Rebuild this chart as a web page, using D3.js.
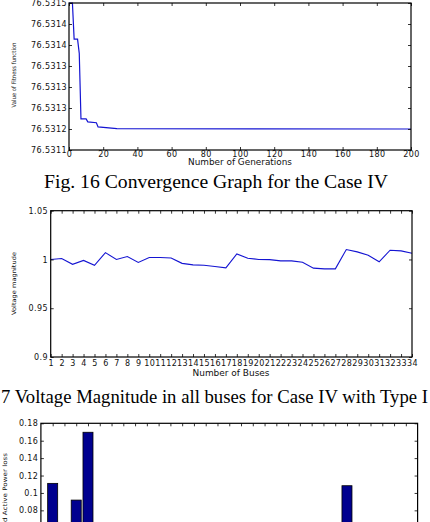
<!DOCTYPE html>
<html><head><meta charset="utf-8">
<script src="https://cdn.jsdelivr.net/npm/d3@7"></script>
<style>body{margin:0;background:#fff;overflow:hidden;} svg{display:block;}</style>
</head><body>
<svg id="c" width="430" height="522"></svg>
<script>
// ---- Fig. 16: convergence ----
const generations = [0, 2, 3, 5, 6, 7, 10, 11, 16, 17, 28, 200];
const fitness = [76.53150, 76.53150, 76.531414, 76.531414, 76.53138, 76.531224, 76.531224, 76.531217, 76.531215, 76.531205, 76.531201, 76.531200];
const genTicks = [0, 20, 40, 60, 80, 100, 120, 140, 160, 180, 200];
const fitTicks = [76.53150, 76.53145, 76.53140, 76.53135, 76.53130, 76.53125, 76.53120, 76.53115];
const fitTickLabels = ["76.5315", "76.5314", "76.5314", "76.5313", "76.5313", "76.5313", "76.5312", "76.5311"];

// ---- Fig. 17: voltage magnitude ----
const buses = [1,2,3,4,5,6,7,8,9,10,11,12,13,14,15,16,17,18,19,20,21,22,23,24,25,26,27,28,29,30,31,32,33,34];
const voltage = [1.000, 1.001, 0.995, 0.999, 0.994, 1.007, 1.000, 1.003, 0.997, 1.002, 1.002, 1.0015, 0.996, 0.9945, 0.994, 0.9928,
  0.9914, 1.0057, 1.0013, 1.000, 0.9998, 0.9986, 0.9986, 0.9972, 0.9911, 0.9904, 0.9904, 1.0102, 1.0078, 1.0044, 0.9976, 1.0095, 1.0088, 1.0064];
const voltTicks = [0.9, 0.95, 1, 1.05];
const voltTickLabels = ["0.9", "0.95", "1", "1.05"];

// ---- Fig. 18: active power loss reduction (only the upper part is in view) ----
const branches = [1,2,3,4,5,6,7,8,9,10,11,12,13,14,15,16,17,18,19,20,21,22,23,24,25,26,27,28,29,30,31];
const lossReduction = [0.111, 0, 0.0918, 0.1697, 0, 0, 0, 0, 0, 0, 0, 0, 0, 0, 0, 0, 0, 0, 0, 0, 0, 0, 0, 0, 0, 0.1083, 0, 0, 0, 0, 0];
const lossTicks = [0, 0.02, 0.04, 0.06, 0.08, 0.1, 0.12, 0.14, 0.16, 0.18];
const lossTickLabels = ["0", "0.02", "0.04", "0.06", "0.08", "0.1", "0.12", "0.14", "0.16", "0.18"];

const W = 430, H = 522;
const svg = d3.select("#c");
svg.append("rect").attr("width", W).attr("height", H).attr("fill", "#fff");

const FONT = "DejaVu Sans, Verdana, sans-serif";

function frame(g, x, y, cfg) {
  const [x0, x1] = x.range(), [y1, y0] = y.range();
  const styleAxis = a => {
    a.select(".domain").remove();
    a.selectAll("line").attr("stroke", "#000").attr("stroke-width", 0.8);
    a.selectAll("text").attr("font-family", FONT).attr("font-size", 8).attr("letter-spacing", 0.4).attr("fill", "#111");
    // drop labels that fall outside the visible picture
    a.selectAll(".tick").filter(function () {
      const t = d3.select(this).attr("transform");
      const m = /translate\(([-\d.]+),([-\d.]+)\)/.exec(t);
      return m && (+m[2] > H - 6);
    }).select("text").remove();
  };
  g.append("g").attr("transform", `translate(0,${y1})`)
    .call(d3.axisBottom(x).tickValues(cfg.xTicks).tickFormat(cfg.xFmt).tickSize(-3).tickPadding(cfg.xPad))
    .call(styleAxis)
    .call(a => { if (y1 > H) a.selectAll("text").remove(); });
  g.append("g").attr("transform", `translate(0,${y0})`)
    .call(d3.axisTop(x).tickValues(cfg.xTicks).tickFormat("").tickSize(-3))
    .call(styleAxis);
  g.append("g").attr("transform", `translate(${x0},0)`)
    .call(d3.axisLeft(y).tickValues(cfg.yTicks).tickFormat((d, i) => cfg.yLabels[i]).tickSize(-3).tickPadding(cfg.yPad))
    .call(styleAxis);
  g.append("g").attr("transform", `translate(${x1},0)`)
    .call(d3.axisRight(y).tickValues(cfg.yTicks).tickFormat("").tickSize(-3))
    .call(styleAxis);
  g.append("rect").attr("x", x0).attr("y", y0).attr("width", x1 - x0).attr("height", y1 - y0)
    .attr("fill", "none").attr("stroke", "#000").attr("stroke-width", 1.2);
}

function rotLabel(text, cx, cy, len) {
  svg.append("text").attr("transform", `translate(${cx},${cy}) rotate(-90)`)
    .attr("text-anchor", "middle").attr("font-family", FONT).attr("font-size", 6)
    .attr("textLength", len).attr("lengthAdjust", "spacingAndGlyphs").attr("fill", "#111").text(text);
}
function xLabel(text, cx, by, len) {
  svg.append("text").attr("x", cx).attr("y", by).attr("text-anchor", "middle")
    .attr("font-family", FONT).attr("font-size", 8).attr("textLength", len)
    .attr("lengthAdjust", "spacingAndGlyphs").attr("fill", "#111").text(text);
}
function caption(text, x, by, len) {
  svg.append("text").attr("x", x).attr("y", by).attr("font-family", "Liberation Serif, Times New Roman, serif")
    .attr("font-size", 18.5).attr("textLength", len).attr("lengthAdjust", "spacingAndGlyphs")
    .attr("fill", "#000").text(text);
}

// ---- Chart 1 ----
{
  const x = d3.scaleLinear().domain([0, 200]).range([69, 411]);
  const y = d3.scaleLinear().domain([76.53115, 76.53150]).range([150, 3]);
  const g = svg.append("g");
  const pts = generations.map((d, i) => [d, fitness[i]]);
  g.append("path").datum(pts)
    .attr("d", d3.line().x(d => x(d[0])).y(d => y(d[1])))
    .attr("fill", "none").attr("stroke", "#1414d2").attr("stroke-width", 1.2);
  frame(g, x, y, { xTicks: genTicks, xFmt: d => d, xPad: 1.5, yTicks: fitTicks, yLabels: fitTickLabels, yPad: 2 });
  rotLabel("Value of Fitness function", 16, 75, 65);
  xLabel("Number of Generations", 240, 165, 104);
  caption("Fig. 16  Convergence Graph for the Case IV", 44, 188, 344);
}

// ---- Chart 2 ----
{
  const x = d3.scaleLinear().domain([1, 34]).range([50.7, 412]);
  const y = d3.scaleLinear().domain([0.9, 1.05]).range([357, 210.7]);
  const g = svg.append("g");
  g.append("path").datum(buses.map((b, i) => [b, voltage[i]]))
    .attr("d", d3.line().x(d => x(d[0])).y(d => y(d[1])))
    .attr("fill", "none").attr("stroke", "#1414d2").attr("stroke-width", 1.1);
  frame(g, x, y, { xTicks: buses, xFmt: d => d, xPad: 3.3, yTicks: voltTicks, yLabels: voltTickLabels, yPad: 2.7 });
  rotLabel("Voltage magnitude", 16, 283.5, 63);
  xLabel("Number of Buses", 231, 376, 77);
  caption("7 Voltage Magnitude in all buses for Case IV with Type I", 1, 403, 427);
}

// ---- Chart 3 ----
{
  const x = d3.scaleLinear().domain([0, 32]).range([40.9, 417.6]);
  const y = d3.scaleLinear().domain([0, 0.18]).range([580, 423.3]);
  const g = svg.append("g");
  const bw = (x(1) - x(0)) * 0.85;
  g.selectAll("rect.bar").data(branches.map((b, i) => [b, lossReduction[i]]).filter(d => d[1] > 0))
    .join("rect").attr("class", "bar")
    .attr("x", d => x(d[0]) - bw / 2).attr("width", bw)
    .attr("y", d => y(d[1])).attr("height", d => y(0) - y(d[1]))
    .attr("fill", "#00008f").attr("stroke", "#000").attr("stroke-width", 0.8);
  frame(g, x, y, { xTicks: branches, xFmt: d => d, xPad: 3.3, yTicks: lossTicks, yLabels: lossTickLabels, yPad: 2.6 });
  svg.append("text").attr("transform", `translate(7,453) rotate(-90)`)
    .attr("text-anchor", "end").attr("font-family", FONT).attr("font-size", 6)
    .attr("textLength", 69).attr("lengthAdjust", "spacingAndGlyphs").attr("fill", "#111")
    .text("d Active Power loss");
}
</script>
</body></html>
